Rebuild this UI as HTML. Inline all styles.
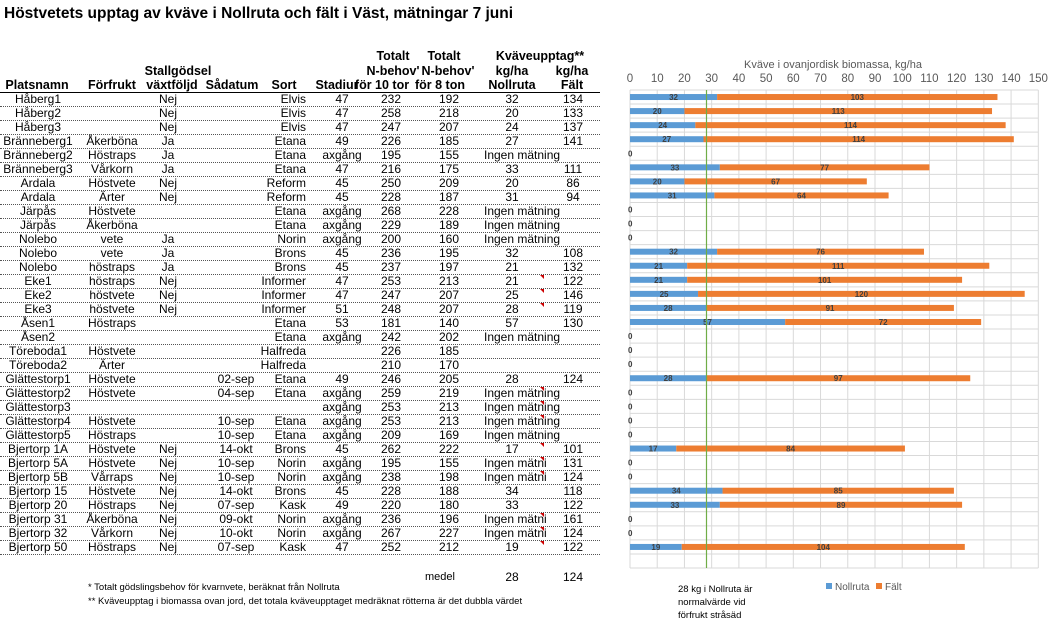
<!DOCTYPE html>
<html><head><meta charset="utf-8">
<style>
body{margin:0;width:1052px;height:633px;background:#fff;position:relative;overflow:hidden;font-family:"Liberation Sans",sans-serif;}
.t{position:absolute;white-space:nowrap;font-size:12px;color:#000;line-height:14px;}
.h{font-weight:bold;font-size:12.5px;}
.c{transform:translateX(-50%);}
.r{transform:translateX(-100%);}
.line{position:absolute;left:0;width:600px;border-top:1px dotted #555;}
</style></head><body>
<div class="t" style="left:4px;top:5px;font-size:15.5px;font-weight:bold;line-height:18px;">Höstvetets upptag av kväve i Nollruta och fält i Väst, mätningar 7 juni</div>
<div id="tbl"></div>
<svg id="ch" width="1052" height="633" style="position:absolute;left:0;top:0" xmlns="http://www.w3.org/2000/svg"></svg>
<script>
var rows=[
["Håberg1","","Nej","","Elvis","47","232","192","32","134"],
["Håberg2","","Nej","","Elvis","47","258","218","20","133"],
["Håberg3","","Nej","","Elvis","47","247","207","24","137"],
["Bränneberg1","Åkerböna","Ja","","Etana","49","226","185","27","141"],
["Bränneberg2","Höstraps","Ja","","Etana","axgång","195","155","Ingen mätning",""],
["Bränneberg3","Vårkorn","Ja","","Etana","47","216","175","33","111"],
["Ardala","Höstvete","Nej","","Reform","45","250","209","20","86"],
["Ardala","Ärter","Nej","","Reform","45","228","187","31","94"],
["Järpås","Höstvete","","","Etana","axgång","268","228","Ingen mätning",""],
["Järpås","Åkerböna","","","Etana","axgång","229","189","Ingen mätning",""],
["Nolebo","vete","Ja","","Norin","axgång","200","160","Ingen mätning",""],
["Nolebo","vete","Ja","","Brons","45","236","195","32","108"],
["Nolebo","höstraps","Ja","","Brons","45","237","197","21","132"],
["Eke1","höstraps","Nej","","Informer","47","253","213","21","122"],
["Eke2","höstvete","Nej","","Informer","47","247","207","25","146"],
["Eke3","höstvete","Nej","","Informer","51","248","207","28","119"],
["Åsen1","Höstraps","","","Etana","53","181","140","57","130"],
["Åsen2","","","","Etana","axgång","242","202","Ingen mätning",""],
["Töreboda1","Höstvete","","","Halfreda","","226","185","",""],
["Töreboda2","Ärter","","","Halfreda","","210","170","",""],
["Glättestorp1","Höstvete","","02-sep","Etana","49","246","205","28","124"],
["Glättestorp2","Höstvete","","04-sep","Etana","axgång","259","219","Ingen mätning",""],
["Glättestorp3","","","","","axgång","253","213","Ingen mätning",""],
["Glättestorp4","Höstvete","","10-sep","Etana","axgång","253","213","Ingen mätning",""],
["Glättestorp5","Höstraps","","10-sep","Etana","axgång","209","169","Ingen mätning",""],
["Bjertorp 1A","Höstvete","Nej","14-okt","Brons","45","262","222","17","101"],
["Bjertorp 5A","Höstvete","Nej","10-sep","Norin","axgång","195","155","Ingen mätni","131"],
["Bjertorp 5B","Vårraps","Nej","10-sep","Norin","axgång","238","198","Ingen mätni","124"],
["Bjertorp 15","Höstvete","Nej","14-okt","Brons","45","228","188","34","118"],
["Bjertorp 20","Höstraps","Nej","07-sep","Kask","49","220","180","33","122"],
["Bjertorp 31","Åkerböna","Nej","09-okt","Norin","axgång","236","196","Ingen mätni","161"],
["Bjertorp 32","Vårkorn","Nej","10-okt","Norin","axgång","267","227","Ingen mätni","124"],
["Bjertorp 50","Höstraps","Nej","07-sep","Kask","47","252","212","19","122"]];
var red=[13,14,15,21,22,23,25,26,27,30,31,32];
var h='';
function T(x,y,s,cls,st){h+='<div class="t '+(cls||'')+'" style="left:'+x+'px;top:'+y+'px;'+(st||'')+'">'+s+'</div>';}
T(393,49,'Totalt','h c');T(444,49,'Totalt','h c');T(540,49,'Kväveupptag**','h c');
T(178,64,'Stallgödsel','h c');T(393,64,"N-behov'",'h c');T(448,64,"N-behov'",'h c');T(512,64,'kg/ha','h c');T(572,64,'kg/ha','h c');
T(37,78,'Platsnamn','h c');T(112,78,'Förfrukt','h c');T(172,78,'växtföljd','h c');T(232,78,'Sådatum','h c');T(284,78,'Sort','h c');T(337,78,'Stadiur','h c');T(382,78,'för 10 tor','h c');T(440,78,'för 8 ton','h c');T(512,78,'Nollruta','h c');T(572,78,'Fält','h c');
h+='<div class="line" style="top:92px;border-top:1px solid #000"></div>';
for(var i=0;i<rows.length;i++){var r=rows[i],y=92+14*i;
T(38,y,r[0],'c');T(112,y,r[1],'c');T(168,y,r[2],'c');T(236,y,r[3],'c');T(306,y,r[4],'r');T(342,y,r[5],'c');T(391,y,r[6],'c');T(449,y,r[7],'c');
if(r[8].indexOf('Ingen')==0)T(484,y,r[8]);else T(512,y,r[8],'c');T(573,y,r[9],'c');
h+='<div class="line" style="top:'+(y+14)+'px"></div>';
if(red.indexOf(i)>=0)h+='<div style="position:absolute;left:540px;top:'+(y+1)+'px;width:0;height:0;border-top:4px solid #c00;border-left:4px solid transparent"></div>';}
T(425,570,'medel','',"font-size:11px");T(512,570,'28','c');T(573,570,'124','c');
T(88,581,'* Totalt gödslingsbehov för kvarnvete, beräknat från Nollruta','','font-size:9.5px');
T(88,595,'** Kväveupptag i biomassa ovan jord, det totala kväveupptaget medräknat rötterna är det dubbla värdet','','font-size:9.5px');
document.getElementById('tbl').innerHTML=h;
var x0=630,k=2.722,pt=90,sp=14.06,n=34,s='';
s+='<text x="833" y="68" font-size="11" fill="#595959" text-anchor="middle" font-family="Liberation Sans">Kväve i ovanjordisk biomassa, kg/ha</text>';
for(var v=0;v<=150;v+=10){var x=x0+v*k;s+='<line x1="'+x+'" x2="'+x+'" y1="'+pt+'" y2="'+(pt+n*sp)+'" stroke="#d9d9d9"/>';
s+='<text x="'+x+'" y="82" font-size="11.5" fill="#595959" text-anchor="middle" font-family="Liberation Sans">'+v+'</text>';}
for(var j=0;j<=n;j++){var y=pt+j*sp;s+='<line x1="'+x0+'" x2="'+(x0+150*k)+'" y1="'+y+'" y2="'+y+'" stroke="#d9d9d9"/>';}
var d=[[32,103],[20,113],[24,114],[27,114],0,[33,77],[20,67],[31,64],0,0,0,[32,76],[21,111],[21,101],[25,120],[28,91],[57,72],0,0,0,[28,97],0,0,0,0,[17,84],0,0,[34,85],[33,89],0,0,[19,104]];
for(var j=0;j<d.length;j++){var cy=pt+(j+0.5)*sp;
if(d[j]){var a=d[j][0],b=d[j][1];
s+='<rect x="'+x0+'" y="'+(cy-3)+'" width="'+(a*k)+'" height="6" fill="#5b9bd5"/>';
s+='<rect x="'+(x0+a*k)+'" y="'+(cy-3)+'" width="'+(b*k)+'" height="6" fill="#ed7d31"/>';
s+='<text x="'+(x0+a*k/2)+'" y="'+(cy+3)+'" font-size="8" font-weight="bold" fill="#404040" text-anchor="middle" font-family="Liberation Sans">'+a+'</text>';
s+='<text x="'+(x0+(a+b/2)*k)+'" y="'+(cy+3)+'" font-size="8" font-weight="bold" fill="#404040" text-anchor="middle" font-family="Liberation Sans">'+b+'</text>';}
else s+='<text x="'+(x0-2)+'" y="'+(cy+3)+'" font-size="8" font-weight="bold" fill="#404040" font-family="Liberation Sans">0</text>';}
s+='<line x1="706.5" x2="706.5" y1="'+pt+'" y2="'+(pt+n*sp)+'" stroke="#70ad47" stroke-width="1.2"/>';
s+='<rect x="826" y="583" width="6" height="6" fill="#5b9bd5"/><text x="835" y="590" font-size="10" fill="#595959" font-family="Liberation Sans">Nollruta</text>';
s+='<rect x="876" y="583" width="6" height="6" fill="#ed7d31"/><text x="885" y="590" font-size="10" fill="#595959" font-family="Liberation Sans">Fält</text>';
s+='<text font-size="9.5" fill="#000" font-family="Liberation Sans"><tspan x="678" y="592">28 kg i Nollruta är</tspan><tspan x="678" y="605">normalvärde vid</tspan><tspan x="678" y="618">förfrukt stråsäd</tspan></text>';
document.getElementById('ch').innerHTML=s;
</script>
</body></html>
